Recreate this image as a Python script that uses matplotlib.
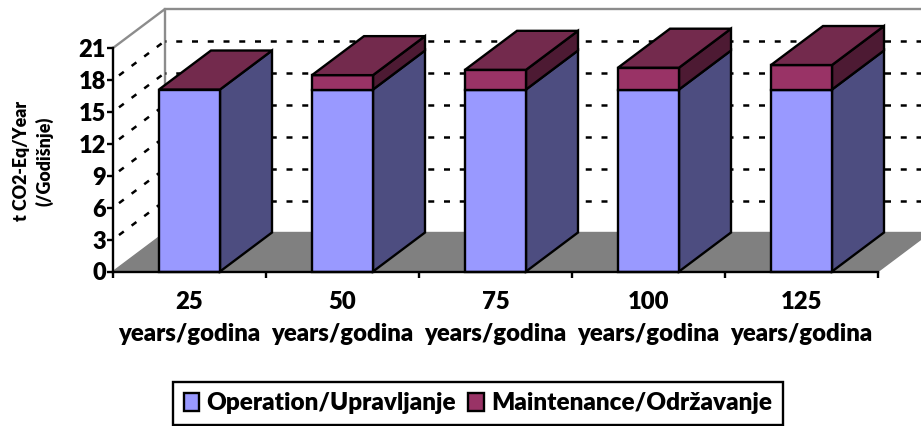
import matplotlib
matplotlib.use("Agg")
import matplotlib.pyplot as plt
from matplotlib.patches import Polygon, Patch

plt.rcParams['font.family'] = ['Lato', 'DejaVu Sans']
plt.rcParams['font.weight'] = 'heavy'

periods = ["25", "50", "75", "100", "125"]
operation = [17.1, 17.1, 17.1, 17.1, 17.1]
maintenance = [0.0, 1.35, 1.85, 2.05, 2.3]
y_ticks = [0, 3, 6, 9, 12, 15, 18, 21]
unit = "years/godina"

W, H = 921, 426
fig = plt.figure(figsize=(W/100, H/100), dpi=100)
# plot box in pixels, the 3d look is drawn by hand with a depth offset
ax = fig.add_axes([113/W, 1-271.5/H, (878-113)/W, 223.5/H])
ax.set_xlim(0, 5)
ax.set_ylim(0, 21)
ax.patch.set_visible(False)

dx = 52/153
dy = 39/(223.5/21)
lw = 1.7
grid_lw = 1.8
bar_w = 61/153

front_col = ['#9999FF', '#993366']
side_col = ['#4D4D80', '#4D1A33']
top_col = '#732A4D'

# floor and walls
ax.add_patch(Polygon([(0, 0), (5, 0), (5+dx, dy), (dx, dy)], fc='#808080', ec='#808080', lw=1, clip_on=False, zorder=1))
ax.plot([0, dx, dx], [21, 21+dy, dy], color='#8C8C8C', lw=lw, clip_on=False, zorder=1.5)
ax.plot([dx, 5+dx], [21+dy, 21+dy], color='#8C8C8C', lw=lw, clip_on=False, zorder=1.5)

# dashed grid on side and back wall
for t in y_ticks[1:-1]:
    ax.plot([0, dx], [t, t+dy], color='black', lw=grid_lw, ls=(3.3, (2.4, 3.9)), clip_on=False, zorder=2)
    ax.plot([dx, 5+dx], [t+dy, t+dy], color='black', lw=grid_lw, ls=(2, (2.4, 3.9)), clip_on=False, zorder=2)

for i in range(len(periods)):
    x0 = i + 0.5 - bar_w/2
    x1 = x0 + bar_w
    bottom = 0
    for vals, fc, sc in zip([operation, maintenance], front_col, side_col):
        top = bottom + vals[i]
        if vals[i] > 0:
            ax.add_patch(Polygon([(x1, bottom), (x1+dx, bottom+dy), (x1+dx, top+dy), (x1, top)],
                                 fc=sc, ec='black', lw=lw, joinstyle='miter', clip_on=False, zorder=3+i))
            ax.add_patch(Polygon([(x0, bottom), (x1, bottom), (x1, top), (x0, top)],
                                 fc=fc, ec='black', lw=lw, joinstyle='miter', clip_on=False, zorder=3+i))
        bottom = top
    ax.add_patch(Polygon([(x0, bottom), (x1, bottom), (x1+dx, bottom+dy), (x0+dx, bottom+dy)],
                         fc=top_col, ec='black', lw=lw, joinstyle='miter', clip_on=False, zorder=3+i))

for s in ['top', 'right']:
    ax.spines[s].set_visible(False)
for s in ['left', 'bottom']:
    ax.spines[s].set_linewidth(lw)
    ax.spines[s].set_zorder(10)

ax.set_yticks(y_ticks)
ax.tick_params(axis='y', length=4.2, width=lw, labelsize=17, pad=1)
ax.set_xticks(range(6))
ax.tick_params(axis='x', which='major', length=4.2, width=lw, labelbottom=False)
ax.set_xticks([i+0.5 for i in range(5)], [f"{p}\n{unit}" for p in periods], minor=True)
ax.tick_params(axis='x', which='minor', length=0, labelsize=17.2, pad=14)
for lab in ax.get_xticklabels(minor=True):
    lab.set_linespacing(1.55)

fig.text(33/W, 1-161/H, "t CO2-Eq/Year\n(/Godišnje)", rotation=90, ha='center', va='center',
         fontsize=12.8, linespacing=1.35)

handles = [Patch(fc=front_col[0], ec='black', lw=lw, label="Operation/Upravljanje"),
           Patch(fc=front_col[1], ec='black', lw=lw, label="Maintenance/Održavanje")]
leg = fig.legend(handles=handles, loc='center', bbox_to_anchor=(478/W, 1-403.5/H), ncol=2, fontsize=17.5,
                 fancybox=False, framealpha=1, edgecolor='black', handlelength=0.65, handleheight=0.75,
                 handletextpad=0.3, columnspacing=0.5, borderpad=0.42, borderaxespad=0)
leg.get_frame().set_linewidth(lw)

fig.savefig("out.png", dpi=100)
